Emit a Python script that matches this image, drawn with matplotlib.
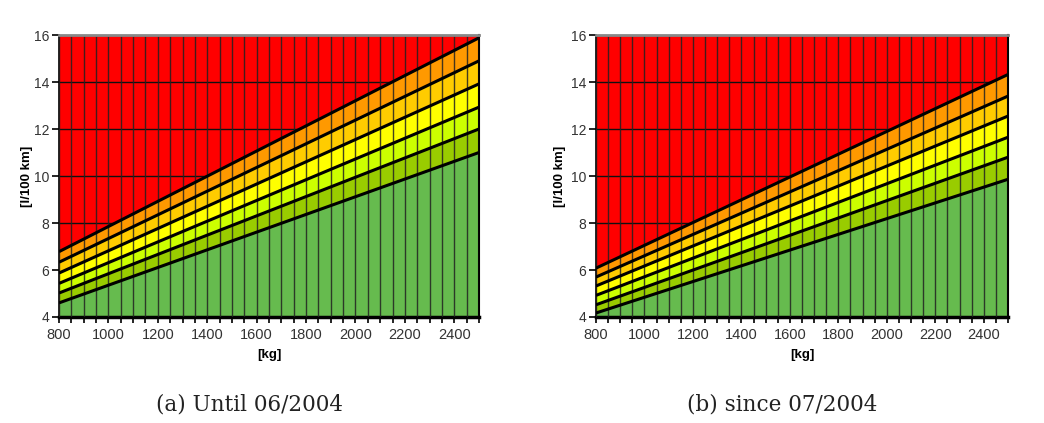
import numpy as np
import matplotlib.pyplot as plt

# kerb weight [kg] at the two ends of each (straight) class boundary
mass = [800, 2500]

# class boundaries [l/100 km], bottom to top, read at 800 kg and 2500 kg
until_2004 = [
    [4.6, 11.0],
    [5.02, 12.0],
    [5.43, 12.93],
    [5.87, 13.92],
    [6.33, 14.9],
    [6.78, 15.88],
]
since_2004 = [
    [4.17, 9.86],
    [4.52, 10.8],
    [4.92, 11.65],
    [5.32, 12.55],
    [5.7, 13.4],
    [6.08, 14.32],
]

band_colors = ["#66bb4e", "#99cc00", "#ccff00", "#ffff00", "#ffcc00", "#ff9900"]
top_color = "#ff0000"
captions = ["(a) Until 06/2004", "(b) since 07/2004"]

fig = plt.figure(figsize=(10.44, 4.23), dpi=100)
W, H = 1044, 423
boxes = [(59, 35, 479, 317), (596, 35, 1008, 317)]
ylabel_x = [27, 560]
caption_x = [250, 782]


def draw_panel(ax, lines):
    x = np.array(mass, dtype=float)
    ax.set_facecolor(top_color)
    # gridlines sit behind the stacked bands, so they only show in the red part
    for yv in [6, 8, 10, 12, 14]:
        ax.axhline(yv, color="#111111", lw=1.0, zorder=1)
    edges = [np.array([4.0, 4.0])] + [np.array(l) for l in lines]
    for i in range(len(edges) - 1):
        ax.fill_between(x, edges[i], edges[i + 1], color=band_colors[i], lw=0, zorder=2)
    for xv in range(800, 2501, 50):
        ax.axvline(xv, color="#222222", lw=1.0, alpha=0.85, zorder=3)
    for l in lines:
        ax.plot(x, l, color="black", lw=2.2, zorder=4, solid_capstyle="butt")
    ax.set_xlim(800, 2500)
    ax.set_ylim(4, 16)
    ax.set_xticks(range(800, 2501, 200))
    ax.set_xticks(range(800, 2501, 50), minor=True)
    ax.set_yticks(range(4, 17, 2))
    ax.tick_params(axis="both", which="both", direction="out", labelsize=10.5,
                   colors="black", width=1.2)
    ax.tick_params(axis="y", length=5, pad=2, labelsize=10)
    ax.tick_params(axis="x", which="major", length=4, pad=4)
    ax.tick_params(axis="x", which="minor", length=4)
    for lab in ax.get_xticklabels() + ax.get_yticklabels():
        lab.set_fontfamily("Liberation Sans")
        lab.set_color("#333333")
    ax.spines["bottom"].set_linewidth(2.5)
    ax.spines["left"].set_linewidth(1.2)
    ax.spines["top"].set_color("#888888")
    ax.spines["top"].set_linewidth(2)
    ax.spines["right"].set_linewidth(1.5)
    ax.spines["top"].set_zorder(5)


for (l, t, r, b), data, cap, yx, cx in zip(boxes, [until_2004, since_2004], captions,
                                           ylabel_x, caption_x):
    ax = fig.add_axes([l / W, 1 - b / H, (r - l) / W, (b - t) / H])
    draw_panel(ax, data)
    fig.text(yx / W, 1 - 176 / H, "[l/100 km]", rotation=90, ha="center", va="center",
             fontsize=9.5, fontweight="bold", family="Liberation Sans")
    fig.text((l + r) / 2 / W, 1 - 355 / H, "[kg]", ha="center", va="center",
             fontsize=9.5, fontweight="bold", family="Liberation Sans")
    fig.text(cx / W, 1 - 404 / H, cap, ha="center", va="center",
             fontsize=15.5, family="DejaVu Serif", color="#222222")

fig.savefig("out.png", dpi=100)
